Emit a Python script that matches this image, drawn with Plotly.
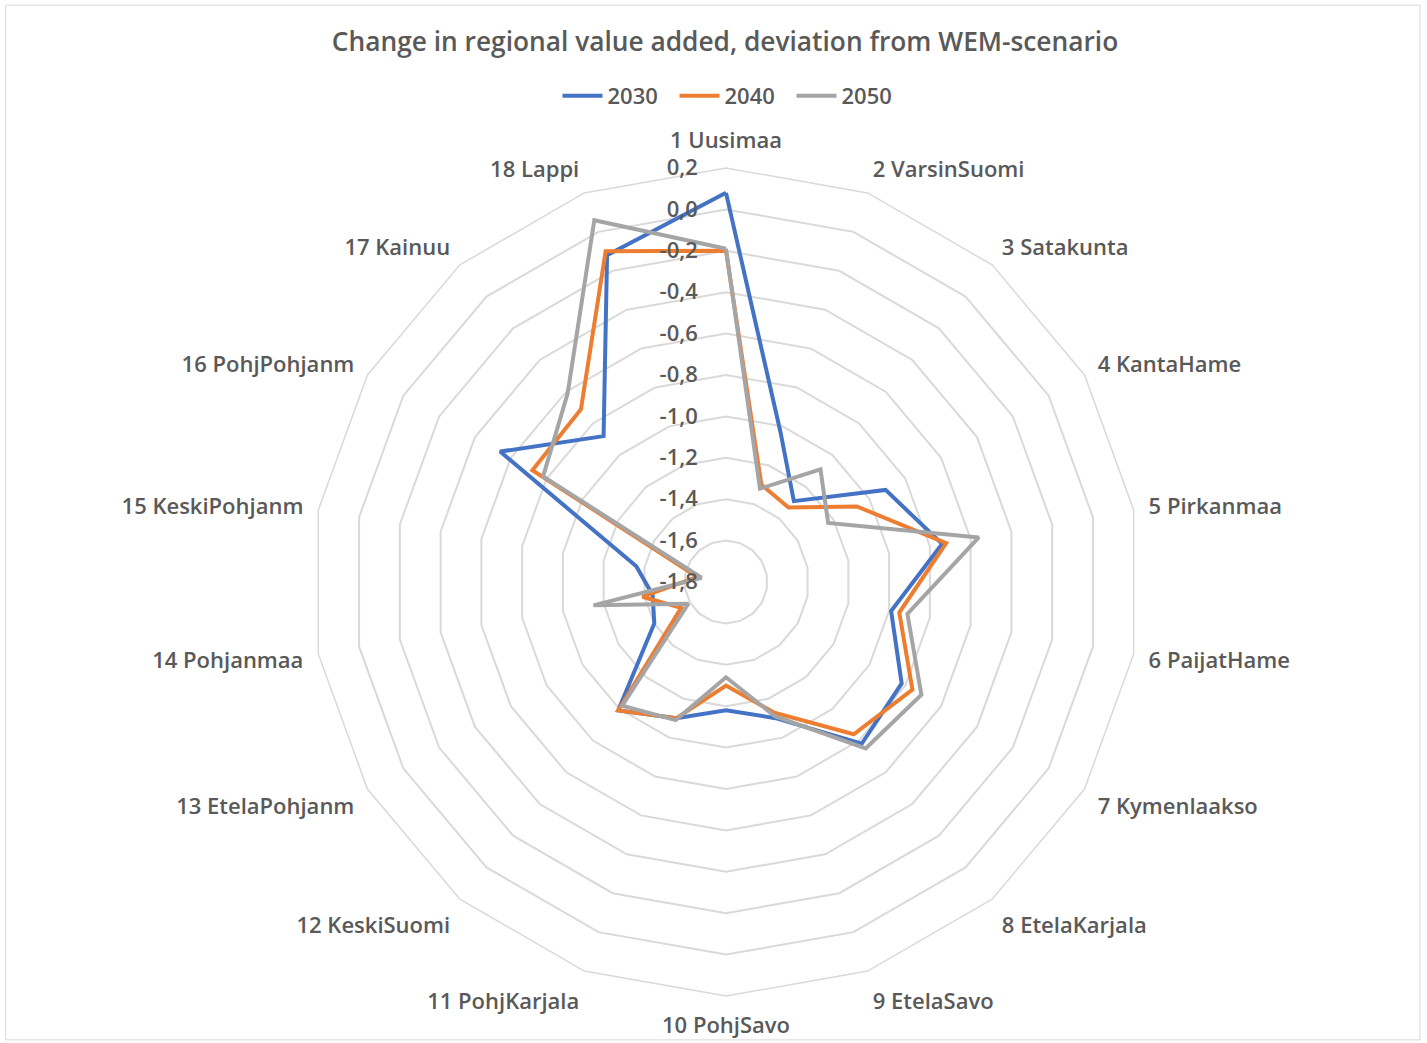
import plotly.graph_objects as go

categories = ["1 Uusimaa", "2 VarsinSuomi", "3 Satakunta", "4 KantaHame", "5 Pirkanmaa",
              "6 PaijatHame", "7 Kymenlaakso", "8 EtelaKarjala", "9 EtelaSavo", "10 PohjSavo",
              "11 PohjKarjala", "12 KeskiSuomi", "13 EtelaPohjanm", "14 Pohjanmaa",
              "15 KeskiPohjanm", "16 PohjPohjanm", "17 Kainuu", "18 Lappi"]

v2030 = [0.08, -1.03, -1.29, -0.91, -0.74, -0.99, -0.82, -0.78, -1.10, -1.18,
         -1.10, -0.99, -1.40, -1.44, -1.36, -0.54, -0.88, -0.12]
v2040 = [-0.20, -1.30, -1.33, -1.07, -0.72, -0.95, -0.76, -0.84, -1.13, -1.30,
         -1.10, -0.99, -1.55, -1.39, -1.66, -0.72, -0.71, -0.10]
v2050 = [-0.19, -1.32, -1.09, -1.23, -0.56, -0.91, -0.71, -0.75, -1.11, -1.34,
         -1.09, -1.02, -1.59, -1.15, -1.68, -0.78, -0.61, 0.06]

series_names = ["2030", "2040", "2050"]
series_colors = ["#4472C4", "#ED7D31", "#A5A5A5"]

tick_vals = [0.2, 0.0, -0.2, -0.4, -0.6, -0.8, -1.0, -1.2, -1.4, -1.6, -1.8]
tick_text = ["0,2", "0,0", "-0,2", "-0,4", "-0,6", "-0,8", "-1,0", "-1,2", "-1,4", "-1,6", "-1,8"]

FONT = "Open Sans"
TXT = "#595959"

fig = go.Figure()
for name, vals, col in zip(series_names, [v2030, v2040, v2050], series_colors):
    fig.add_trace(go.Scatterpolar(
        r=vals + vals[:1],
        theta=categories + categories[:1],
        mode="lines",
        name=name,
        line=dict(color=col, width=4),
    ))

W, H = 1427, 1043
cx, cy, R = 726, 582, 414
fig.update_layout(
    width=W, height=H,
    margin=dict(l=0, r=0, t=0, b=0),
    paper_bgcolor="white",
    plot_bgcolor="white",
    font=dict(family=FONT, color=TXT, size=22),
    title=dict(
        text="Change in regional value added, deviation from WEM-scenario",
        x=(cx - 1) / W, xanchor="center", y=1 - 42 / H, yanchor="middle",
        font=dict(family=FONT, size=26.3, color=TXT, weight=600),
    ),
    legend=dict(
        orientation="h", x=(cx + 7) / W, xanchor="center", y=1 - 96 / H, yanchor="middle",
        font=dict(family=FONT, size=22, color=TXT, weight=600),
        itemwidth=40, traceorder="normal",
        entrywidth=62, entrywidthmode="pixels",
    ),
    polar=dict(
        domain=dict(x=[(cx - R) / W, (cx + R) / W], y=[1 - (cy + R) / H, 1 - (cy - R) / H]),
        bgcolor="white",
        gridshape="linear",
        radialaxis=dict(
            range=[-1.8, 0.2], autorange=False,
            tickvals=tick_vals, ticktext=tick_text,
            angle=90, tickangle=90, side="counterclockwise",
            showline=False, ticks="outside", ticklen=20, tickcolor="rgba(0,0,0,0)",
            gridcolor="#D9D9D9", gridwidth=1.5,
            tickfont=dict(family=FONT, size=22, color=TXT, weight=600),
            layer="above traces",
        ),
        angularaxis=dict(
            direction="clockwise", rotation=90,
            showgrid=False, showline=True, linecolor="#D9D9D9", linewidth=1.5,
            ticks="outside", ticklen=10, tickcolor="rgba(0,0,0,0)",
            tickfont=dict(family=FONT, size=22, color=TXT, weight=600),
        ),
    ),
    shapes=[dict(type="rect", xref="paper", yref="paper", x0=0.004, x1=0.995, y0=0.003, y1=0.995,
                 line=dict(color="#D9D9D9", width=1), fillcolor="rgba(0,0,0,0)")],
)

fig.write_html("out.html", config={"displayModeBar": False},
               post_script="document.body.style.margin='0px';")
